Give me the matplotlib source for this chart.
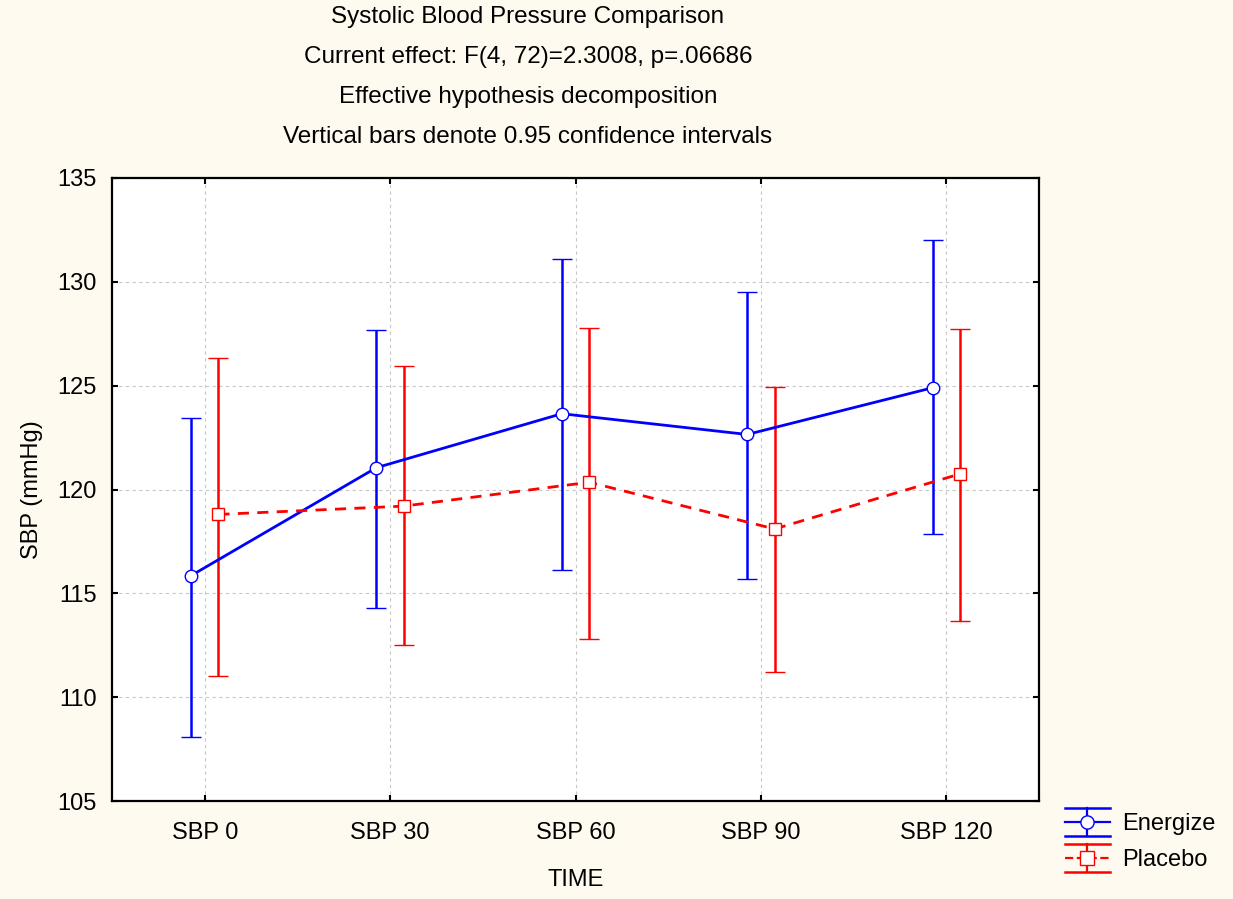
import matplotlib.pyplot as plt
import numpy as np
from matplotlib.legend_handler import HandlerBase
from matplotlib.lines import Line2D

plt.rcParams['font.family'] = ['Liberation Sans', 'DejaVu Sans']

# data
times = ['SBP 0', 'SBP 30', 'SBP 60', 'SBP 90', 'SBP 120']

energize_mean = [115.85, 121.05, 123.65, 122.65, 124.9]
energize_low = [108.1, 114.3, 116.1, 115.7, 117.85]
energize_high = [123.45, 127.7, 131.1, 129.5, 132.0]

placebo_mean = [118.8, 119.2, 120.35, 118.1, 120.75]
placebo_low = [111.0, 112.5, 112.8, 111.2, 113.65]
placebo_high = [126.35, 125.95, 127.8, 124.95, 127.75]

title_lines = ['Systolic Blood Pressure Comparison',
               'Current effect: F(4, 72)=2.3008, p=.06686',
               'Effective hypothesis decomposition',
               'Vertical bars denote 0.95 confidence intervals']

bg = '#fffaf0'
FS = 17
DASH = (0, (4, 3))


class CapHandler(HandlerBase):
    # legend key like STATISTICA: full width caps, centre line, marker
    def create_artists(self, legend, orig_handle, xdescent, ydescent, width, height, fontsize, trans):
        c = orig_handle.get_color()
        y0 = height / 2 - ydescent
        x0 = -xdescent
        dy = 10.0
        arts = []
        for y in (y0 + dy, y0 - dy):
            arts.append(Line2D([x0, x0 + width], [y, y], color=c, lw=1.8))
        arts.append(Line2D([x0, x0 + width], [y0, y0], color=c, lw=1.6, ls=orig_handle.get_linestyle()))
        arts.append(Line2D([x0 + width / 2] * 2, [y0 - dy, y0 + dy], color=c, lw=1.6))
        arts.append(Line2D([x0 + width / 2], [y0], marker=orig_handle.get_marker(), ms=9.5,
                           mfc='white', mec=c, mew=1.0, ls='none'))
        for a in arts:
            a.set_transform(trans)
        return arts


fig = plt.figure(figsize=(12.33, 8.99), dpi=100, facecolor=bg)
ax = fig.add_axes([112 / 1233, 1 - 801 / 899, (1039 - 112) / 1233, (801 - 178) / 899])
ax.set_facecolor('white')

x = np.arange(len(times))
off = 0.074

e_mean = np.array(energize_mean)
e_err = [e_mean - np.array(energize_low), np.array(energize_high) - e_mean]
p_mean = np.array(placebo_mean)
p_err = [p_mean - np.array(placebo_low), np.array(placebo_high) - p_mean]

ax.errorbar(x - off, e_mean, yerr=e_err, color='#0000ff', lw=2.0, elinewidth=1.8,
            capsize=7.5, capthick=1.8, marker='o', ms=9, mfc='white', mec='#0000ff',
            mew=1.0, zorder=3)
ax.errorbar(x + off, p_mean, yerr=p_err, color='#ff0000', lw=2.0, ls=DASH,
            elinewidth=1.8, capsize=7.5, capthick=1.8, marker='s', ms=9, mfc='white',
            mec='#ff0000', mew=1.0, zorder=3)

ax.set_xlim(-0.5, len(times) - 0.5)
ax.set_ylim(105, 135)
ax.set_xticks(x)
ax.set_xticklabels(times)
ax.set_yticks(np.arange(105, 136, 5))
ax.grid(True, color='#c8c8c8', ls=(0, (3, 3)), lw=0.8)
ax.tick_params(direction='in', length=4, width=1.5, top=True, right=True,
               labelsize=FS, colors='black')
ax.tick_params(axis='x', pad=15)
ax.tick_params(axis='y', pad=11)
for s in ax.spines.values():
    s.set_linewidth(1.6)
    s.set_color('black')

ax.set_ylabel('SBP (mmHg)', fontsize=FS, labelpad=10)
ax.set_xlabel('TIME', fontsize=FS, labelpad=18)

for i, t in enumerate(title_lines):
    fig.text(528 / 1233, 1 - (17 + 40 * i) / 899, t, ha='center', va='center', fontsize=FS + 0.5)

h_e = Line2D([], [], color='#0000ff', marker='o', ls='-')
h_p = Line2D([], [], color='#ff0000', marker='s', ls=DASH)
leg = fig.legend([h_e, h_p], ['Energize', 'Placebo'], loc='center left',
                 bbox_to_anchor=(1065 / 1233, 1 - 842 / 899), frameon=False, borderpad=0,
                 borderaxespad=0, fontsize=FS, handlelength=1.9, labelspacing=0.6,
                 handletextpad=0.5,
                 handler_map={h_e: CapHandler(), h_p: CapHandler()})

fig.savefig('out.png', dpi=100, facecolor=bg)
